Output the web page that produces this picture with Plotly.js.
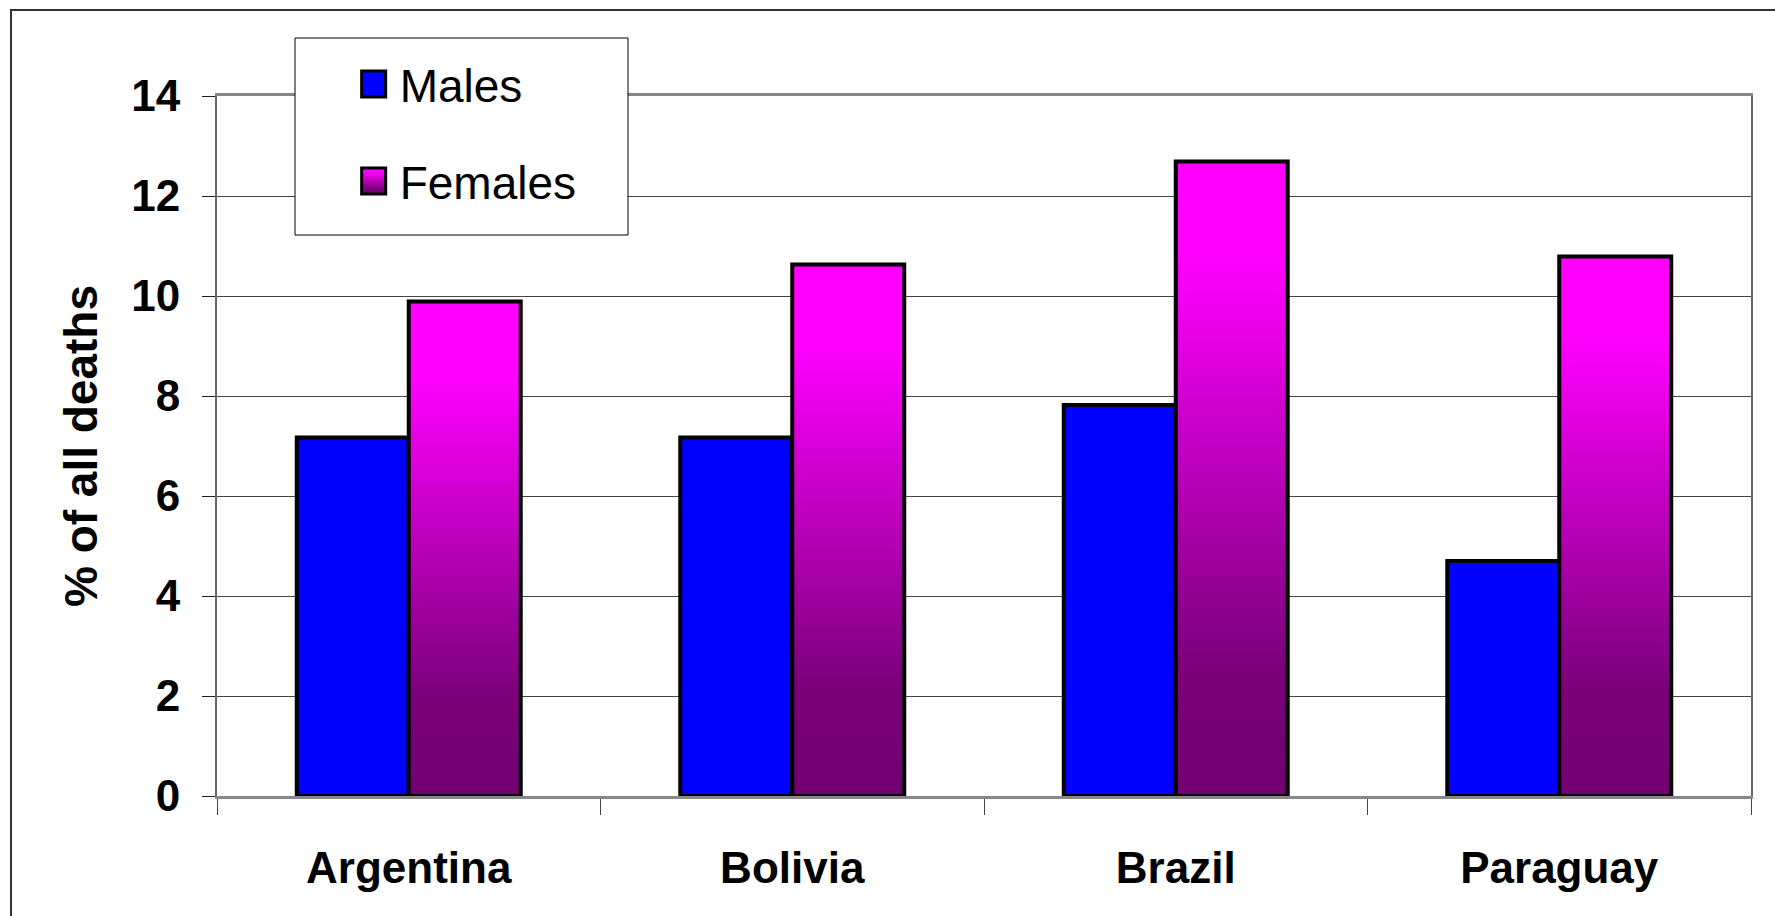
<!DOCTYPE html>
<html>
<head>
<meta charset="utf-8">
<script src="https://cdn.plot.ly/plotly-3.0.1.min.js"></script>
<style>
  html, body { margin: 0; padding: 0; background: #fff; }
  #frame { position: absolute; left: 10px; top: 9px; width: 1800px; height: 1000px;
           border-left: 2px solid #333; border-top: 2px solid #333; }
  #chart { position: absolute; left: 0; top: 0; width: 1775px; height: 916px; }
</style>
</head>
<body>
<div id="frame"></div>
<div id="chart"></div>
<svg width="0" height="0" style="position:absolute">
  <defs>
    <linearGradient id="femGrad" x1="0" y1="0" x2="0" y2="1">
      <stop offset="0" stop-color="#FF00FF"/>
      <stop offset="0.15" stop-color="#FF00FF"/>
      <stop offset="0.8" stop-color="#7A007A"/>
      <stop offset="1" stop-color="#720072"/>
    </linearGradient>
  </defs>
</svg>
<script>
const countries = ["Argentina", "Bolivia", "Brazil", "Paraguay"];
const males = [7.17, 7.17, 7.82, 4.70];
const females = [9.89, 10.63, 12.69, 10.79];
const yTicks = [0, 2, 4, 6, 8, 10, 12, 14];

const boldFont = {family: "Liberation Sans, Arial, sans-serif", size: 44, color: "#000", weight: "bold"};

const traces = [
  {type: "bar", name: "Males", x: countries, y: males, legendgroup: "m",
   marker: {color: "#0000FF", line: {color: "#000", width: 4}}},
  {type: "bar", name: "Females", x: countries, y: females, legendgroup: "f",
   marker: {color: "#C000C0", line: {color: "#000", width: 4}}}
];

const layout = {
  width: 1775, height: 916,
  margin: {l: 217, r: 24, t: 96, b: 120, pad: 0},
  paper_bgcolor: "rgba(0,0,0,0)", plot_bgcolor: "#fff",
  barmode: "group", bargap: 0.416, bargroupgap: 0,
  showlegend: true,
  legend: {x: 0.093, xanchor: "left", y: 1.069, yanchor: "top",
           bgcolor: "rgba(0,0,0,0)", borderwidth: 0,
           traceorder: "grouped", tracegroupgap: 34,
           font: {family: "Liberation Sans, Arial, sans-serif", size: 46, color: "#000"}},
  xaxis: {type: "category", tickson: "boundaries", ticks: "outside", ticklen: 16,
          tickcolor: "#444", tickwidth: 1,
          showline: true, linecolor: "#888", linewidth: 3, mirror: true,
          tickfont: boldFont, ticklabelstandoff: 31, showgrid: false},
  yaxis: {range: [0, 14], tickvals: yTicks, ticktext: yTicks.map(String),
          ticks: "outside", ticklen: 13, tickcolor: "#222", tickwidth: 1,
          showline: true, linecolor: "#666", linewidth: 2, mirror: true,
          showgrid: true, gridcolor: "#444", gridwidth: 1, zeroline: false,
          tickfont: boldFont, ticklabelstandoff: 13,
          title: {text: "% of all deaths", standoff: 19,
                  font: {family: "Liberation Sans, Arial, sans-serif", size: 46, color: "#000", weight: "bold"}}},
  shapes: [
    {type: "rect", xref: "paper", yref: "paper", layer: "above",
     x0: (295 - 217) / 1534, x1: (628 - 217) / 1534,
     y0: (796 - 235) / 700, y1: (796 - 38) / 700,
     fillcolor: "#fff", line: {color: "#000", width: 1}}
  ]
};

Plotly.newPlot("chart", traces, layout, {displayModeBar: false, staticPlot: true}).then(function (gd) {
  // vertical gradient fill for the female bars and their legend swatch
  const barTraces = gd.querySelectorAll("g.barlayer g.trace.bars");
  if (barTraces.length > 1) {
    barTraces[1].querySelectorAll("path").forEach(p => { p.style.fill = "url(#femGrad)"; });
  }
  // larger legend swatches, as in the original
  const legendTraces = gd.querySelectorAll("g.legend g.traces");
  legendTraces.forEach((lt, i) => {
    lt.querySelectorAll("g.legendpoints path").forEach(p => {
      p.setAttribute("d", "M12,13H-12V-13H12Z");
      p.setAttribute("transform", "translate(14,0)");
      p.style.strokeWidth = "3px";
      p.style.stroke = "#000";
      if (i === 1) p.style.fill = "url(#femGrad)";
    });
  });
});
</script>
</body>
</html>
